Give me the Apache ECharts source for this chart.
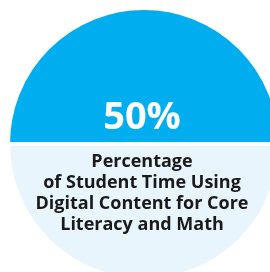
<!DOCTYPE html>
<html>
<head>
<meta charset="utf-8">
<script src="https://cdn.jsdelivr.net/npm/echarts@6/dist/echarts.min.js"></script>
<style>
  html, body { margin: 0; padding: 0; background: #fff; }
  #chart { width: 270px; height: 272px; }
</style>
</head>
<body>
<div id="chart"></div>
<script>
// share of student time on digital content vs. the rest
const sliceNames = ['Digital content', 'Other']
const sliceValues = [50, 50]
const captionLines = [
  'Percentage',
  'of Student Time Using',
  'Digital Content for Core',
  'Literacy and Math'
]

const blue = '#00aeef'
const pale = '#e9f5fd'
const ink = '#1a1a1a'
const fontFamily = '"Open Sans", sans-serif'

const chart = echarts.init(document.getElementById('chart'))

chart.setOption({
  animation: false,
  title: [
    {
      text: sliceValues[0] + '%',
      left: 142,
      top: 98,
      textAlign: 'center',
      padding: 0,
      textStyle: { color: '#fff', fontSize: 38, fontWeight: 'bold', fontFamily, lineHeight: 40 }
    },
    {
      text: captionLines.join('\n'),
      left: 142,
      top: 151,
      textAlign: 'center',
      padding: 0,
      textStyle: { color: ink, fontSize: 18, fontWeight: 'bold', fontFamily, lineHeight: 21 }
    }
  ],
  series: [
    {
      type: 'pie',
      center: [144, 144],
      radius: [0, 136],
      startAngle: 180,
      clockwise: true,
      silent: true,
      label: { show: false },
      labelLine: { show: false },
      itemStyle: { borderColor: '#fff', borderWidth: 4 },
      data: sliceNames.map((name, i) => ({
        name,
        value: sliceValues[i],
        itemStyle: { color: i === 0 ? blue : pale }
      }))
    }
  ]
})
</script>
</body>
</html>
